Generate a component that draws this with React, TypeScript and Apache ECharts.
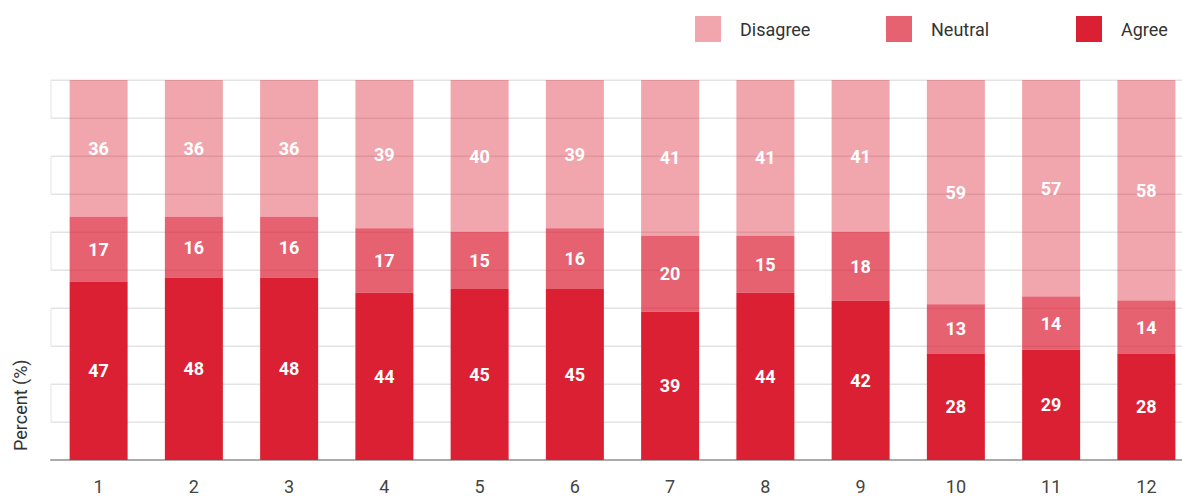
import React, { useEffect, useRef } from "react";
import * as echarts from "echarts";

const categories = ["1", "2", "3", "4", "5", "6", "7", "8", "9", "10", "11", "12"];
const agree = [47, 48, 48, 44, 45, 45, 39, 44, 42, 28, 29, 28];
const neutral = [17, 16, 16, 17, 15, 16, 20, 15, 18, 13, 14, 14];
const disagree = [36, 36, 36, 39, 40, 39, 41, 41, 41, 59, 57, 58];
const bandRanges = [[90, 100], [70, 80], [50, 60], [30, 40], [10, 20]];

const FONT = "Roboto, 'Noto Sans', sans-serif";

export default function App() {
  const ref = useRef<HTMLDivElement>(null);
  useEffect(() => {
    const chart = echarts.init(ref.current!, null, { renderer: "svg" });
    const label = {
      show: true,
      position: "inside",
      color: "#fff",
      fontWeight: "bold",
      fontSize: 18,
      fontFamily: FONT,
    };
    const legendBase = (name: string, left: number) => ({
      data: [name],
      left,
      top: 16,
      padding: 0,
      itemWidth: 26,
      itemHeight: 26,
      icon: "rect",
      selectedMode: false,
      textStyle: { fontSize: 18, color: "#333", fontFamily: FONT, padding: [0, 0, 0, 14] },
    });
    chart.setOption({
      animation: false,
      textStyle: { fontFamily: FONT },
      legend: [legendBase("Disagree", 695), legendBase("Neutral", 886), legendBase("Agree", 1076)],
      grid: { left: 51, top: 80, right: 6, bottom: 36, containLabel: false },
      xAxis: {
        type: "category",
        data: categories,
        axisTick: { show: false },
        axisLine: { lineStyle: { color: "#aaa", width: 2 } },
        axisLabel: { color: "#444", fontSize: 18, margin: 17, fontFamily: FONT },
      },
      yAxis: {
        type: "value",
        min: 0,
        max: 100,
        interval: 10,
        axisLabel: { show: false },
        axisLine: { show: false },
        axisTick: { show: false },
        splitLine: { lineStyle: { color: "#e3e3e3", width: 1 } },
      },
      graphic: [
        {
          type: "text",
          x: 20,
          y: 451,
          rotation: Math.PI / 2,
          style: {
            text: "Percent (%)",
            fontSize: 18,
            fill: "#333",
            fontFamily: FONT,
            textAlign: "left",
            textVerticalAlign: "middle",
          },
        },
      ],
      series: [
        {
          name: "Agree",
          type: "bar",
          stack: "s",
          barWidth: 58,
          data: agree,
          itemStyle: { color: "rgb(220,32,51)" },
          label,
          markArea: {
            silent: true,
            itemStyle: { color: "rgba(0,0,0,0)", borderColor: "#e3e3e3", borderWidth: 1 },
            data: bandRanges.map((r) => [{ yAxis: r[0] }, { yAxis: r[1] }]),
          },
        },
        {
          name: "Neutral",
          type: "bar",
          stack: "s",
          barWidth: 58,
          data: neutral,
          itemStyle: { color: "rgba(220,32,51,0.7)" },
          label,
        },
        {
          name: "Disagree",
          type: "bar",
          stack: "s",
          barWidth: 58,
          data: disagree,
          itemStyle: { color: "rgba(220,32,51,0.4)" },
          label,
        },
      ],
    });
    return () => chart.dispose();
  }, []);
  return (
    <div
      ref={ref}
      style={{ position: "fixed", left: 0, top: 0, width: 1200, height: 496, background: "#fff" }}
    />
  );
}
